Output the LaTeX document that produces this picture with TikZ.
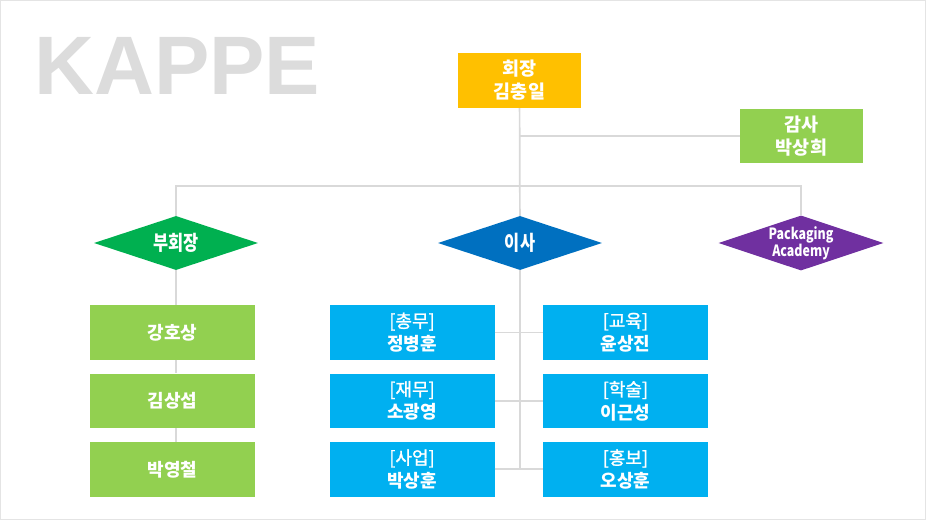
\documentclass[tikz,border=0pt]{standalone}
\usepackage{fontspec}
\setmainfont{Noto Sans CJK KR}
\newfontfamily\medfont[FakeBold=1.4]{Noto Sans CJK KR}
\newfontfamily\narrowfont[FakeStretch=0.8]{Noto Sans CJK KR}
\newfontfamily\titlefont{Liberation Sans}
\usepackage{tikz}
\usetikzlibrary{positioning,shapes.geometric}

\definecolor{kgold}{HTML}{FFC000}
\definecolor{kleaf}{HTML}{92D050}
\definecolor{kgreen}{HTML}{00B050}
\definecolor{kblue}{HTML}{0070C0}
\definecolor{ksky}{HTML}{00B0F0}
\definecolor{kpurple}{HTML}{7030A0}
\definecolor{kline}{HTML}{D9D9D9}
\definecolor{ktitle}{HTML}{DCDCDC}

\begin{document}
\begin{tikzpicture}[
  x=1pt, y=-1pt,
  node distance=13.5pt and 48pt,
  box/.style={rectangle, inner sep=0pt, minimum width=165pt, minimum height=54.5pt,
    text=white, align=center, font=\fontsize{18}{23}\selectfont},
  topbox/.style={box, minimum width=123pt, font=\fontsize{18.5}{23}\selectfont\bfseries},
  dmd/.style={diamond, aspect=3, inner sep=0pt, minimum width=164pt, minimum height=54pt,
    text=white, align=center},
  link/.style={draw=kline, line width=1.7pt},
]
  \useasboundingbox (0,0) rectangle (927,521);
  \draw[kline!70, line width=1pt] (0.5,0.5) rectangle (925.5,519.5);

  \node[anchor=base west, inner sep=0pt, text=ktitle,
    font=\titlefont\fontsize{83}{83}\selectfont\bfseries] (title) at (34,95) {KAPPE};

  % president and auditor
  \node[topbox, fill=kgold, minimum height=55pt] (pres) at (519.5,80.5) {회장\\김충일};
  \node[topbox, fill=kleaf, minimum height=54pt] (aud) at (801.5,136) {감사\\박상희};

  % second level
  \node[dmd, fill=kgreen, font=\narrowfont\fontsize{20.5}{20}\selectfont\bfseries] (vp) at (176,243) {부회장};
  \node[dmd, fill=kblue, font=\narrowfont\fontsize{20.5}{20}\selectfont\bfseries] (dir) at (520,243) {이사};
  \node[dmd, fill=kpurple, font=\narrowfont\fontsize{15.5}{16}\selectfont\bfseries] (acad) at (801,243) {Packaging\\Academy};
  \coordinate (bus) at (520,186);

  % vice presidents
  \node[box, fill=kleaf, font=\fontsize{18}{23}\selectfont\bfseries] (m1) at (172.5,332.5) {강호상};
  \node[box, fill=kleaf, font=\fontsize{18}{23}\selectfont\bfseries, below=of m1] (m2) {김상섭};
  \node[box, fill=kleaf, font=\fontsize{18}{23}\selectfont\bfseries, below=of m2] (m3) {박영철};

  % directors
  \node[box, fill=ksky] (g1) at (412,332.5) {{\medfont [총무]}\\\bfseries 정병훈};
  \node[box, fill=ksky, below=of g1] (g2) {{\medfont [재무]}\\\bfseries 소광영};
  \node[box, fill=ksky, below=of g2] (g3) {{\medfont [사업]}\\\bfseries 박상훈};
  \node[box, fill=ksky, right=of g1] (e1) {{\medfont [교육]}\\\bfseries 윤상진};
  \node[box, fill=ksky, right=of g2] (e2) {{\medfont [학술]}\\\bfseries 이근성};
  \node[box, fill=ksky, right=of g3] (e3) {{\medfont [홍보]}\\\bfseries 오상훈};
  \coordinate (tail) at (dir |- g3);

  % connectors
  \draw[link] (pres) -- (dir);
  \draw[link] (pres) |- (aud);
  \draw[link] (bus) -| (vp);
  \draw[link] (bus) -| (acad);
  \draw[link] (vp.south) -- (vp.south |- m1.north);
  \draw[link] (vp.south |- m1.south) -- (vp.south |- m2.north);
  \draw[link] (vp.south |- m2.south) -- (vp.south |- m3.north);
  \draw[link] (dir) -- (tail);
  \draw[link] (g1) -- (e1);
  \draw[link] (g2) -- (e2);
  \draw[link] (g3) -- (e3);
\end{tikzpicture}
\end{document}
